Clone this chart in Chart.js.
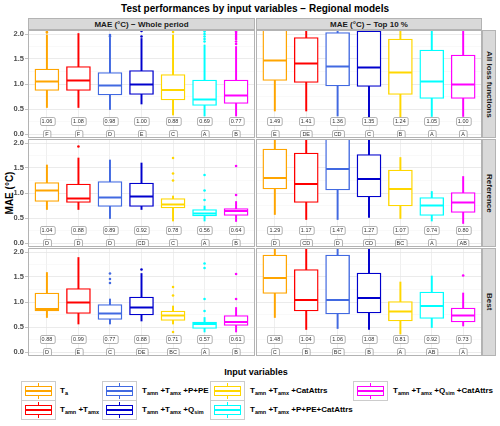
<!DOCTYPE html>
<html>
<head>
<meta charset="utf-8">
<script src="https://cdn.jsdelivr.net/npm/chart.js@4"></script>
<style>
  body { margin: 0; background: #fff; font-family: "Liberation Sans", Arial, sans-serif; }
  #fig { position: relative; width: 500px; height: 426px; overflow: hidden; background: #fff; }
  #fig canvas { position: absolute; }
  .txt { position: absolute; white-space: nowrap; color: #000; }
  .title { left: 28px; width: 454px; top: 3px; text-align: center; font-weight: bold; font-size: 10px; line-height: 12px; }
  .strip { position: absolute; box-sizing: border-box; background: #D9D9D9; border: 1px solid #B3B3B3;
           display: flex; align-items: center; justify-content: center;
           font-weight: bold; font-size: 8px; color: #1A1A1A; }
  .strip span.v { writing-mode: vertical-rl; }
  .ytitle { left: -30px; top: 187px; width: 80px; height: 12px; line-height: 12px; text-align: center;
            font-weight: bold; font-size: 10px; transform: rotate(-90deg); }
  .legtitle { left: 200px; width: 112px; top: 366px; text-align: center; font-weight: bold; font-size: 9px; line-height: 12px; }
  .key { position: absolute; width: 35px; height: 20px; box-sizing: border-box; border: 1px solid #CCCCCC; background: #fff; }
  .key .wh { position: absolute; left: 16px; width: 1.3px; top: 1px; height: 16px; }
  .key .bx { position: absolute; left: 3px; top: 4px; width: 27px; height: 10px; box-sizing: border-box; border: 1.3px solid; background: #fff; }
  .key .md { position: absolute; left: 3px; top: 8.2px; width: 27px; height: 1.6px; }
  .lab { font-weight: bold; font-size: 8px; line-height: 12px; }
  .lab sub { font-size: 5.5px; vertical-align: baseline; position: relative; top: 1.5px; }
</style>
</head>
<body>
<div id="fig">
  <div class="txt title">Test performances by input variables − Regional models</div>
  <div class="txt ytitle">MAE (°C)</div>
  <div class="txt legtitle">Input variables</div>
</div>
<script>
const colLabels = ['MAE (°C) − Whole period', 'MAE (°C) − Top 10 %'];
const rowLabels = ['All loss functions', 'Reference', 'Best'];
const inputVariables = [
  'T<sub>a</sub>',
  'T<sub>amn</sub> +T<sub>amx</sub>',
  'T<sub>amn</sub> +T<sub>amx</sub> +P+PE',
  'T<sub>amn</sub> +T<sub>amx</sub> +Q<sub>sim</sub>',
  'T<sub>amn</sub> +T<sub>amx</sub> +CatAttrs',
  'T<sub>amn</sub> +T<sub>amx</sub> +P+PE+CatAttrs',
  'T<sub>amn</sub> +T<sub>amx</sub> +Q<sub>sim</sub> +CatAttrs'
];
const boxColors = ['#FFA500', '#FF0000', '#4169E1', '#0000CD', '#FFD700', '#00FFFF', '#FF00FF'];
const yTicks = [0, 0.25, 0.5, 0.75, 1, 1.25, 1.5, 1.75, 2];

// panels in order: All/Whole, All/Top10, Reference/Whole, Reference/Top10, Best/Whole, Best/Top10
const lowerWhisker = [
  [0.53, 0.53, 0.49, 0.60, 0.38, 0.36, 0.36],
  [0.46, 0.46, 0.36, 0.34, 0.34, 0.35, 0.35],
  [0.67, 0.67, 0.49, 0.67, 0.44, 0.44, 0.43],
  [0.57, 0.47, 0.47, 0.51, 0.49, 0.44, 0.39],
  [0.69, 0.56, 0.56, 0.62, 0.56, 0.40, 0.40],
  [0.69, 0.45, 0.47, 0.45, 0.36, 0.49, 0.52]
];
const q1 = [
  [0.87, 0.87, 0.78, 0.79, 0.68, 0.57, 0.61],
  [1.07, 1.03, 0.96, 0.95, 0.79, 0.71, 0.71],
  [0.83, 0.81, 0.73, 0.73, 0.70, 0.54, 0.55],
  [1.08, 0.81, 1.06, 0.92, 0.74, 0.55, 0.61],
  [0.82, 0.77, 0.65, 0.74, 0.63, 0.47, 0.53],
  [1.17, 0.82, 0.76, 0.78, 0.62, 0.67, 0.60]
];
const median = [
  [1.05, 1.07, 0.97, 0.99, 0.88, 0.69, 0.77],
  [1.47, 1.41, 1.35, 1.33, 1.23, 1.05, 0.99],
  [1.05, 0.89, 0.91, 0.93, 0.77, 0.59, 0.64],
  [1.30, 1.18, 1.48, 1.28, 1.08, 0.75, 0.81],
  [0.86, 0.99, 0.77, 0.89, 0.73, 0.56, 0.60],
  [1.48, 1.04, 1.04, 1.08, 0.81, 0.92, 0.73]
];
const q3 = [
  [1.30, 1.35, 1.23, 1.27, 1.19, 1.08, 1.08],
  [2.15, 1.93, 2.03, 2.06, 1.90, 1.68, 1.58],
  [1.21, 1.18, 1.23, 1.20, 0.89, 0.67, 0.69],
  [1.88, 1.80, 2.15, 1.77, 1.46, 0.91, 1.01],
  [1.18, 1.27, 0.95, 1.10, 0.82, 0.60, 0.73],
  [1.94, 1.65, 1.94, 1.58, 1.01, 1.20, 0.88]
];
const upperWhisker = [
  [1.98, 2.01, 1.93, 1.91, 1.98, 1.78, 1.75],
  [2.90, 2.60, 2.70, 2.80, 2.50, 2.30, 2.20],
  [1.56, 1.70, 1.66, 1.60, 0.94, 0.74, 0.83],
  [2.40, 2.50, 2.80, 2.30, 1.71, 1.03, 1.33],
  [1.59, 1.89, 1.06, 1.57, 0.92, 0.69, 0.89],
  [2.30, 2.30, 2.50, 2.30, 1.40, 1.52, 1.18]
];
const outliers = [
  [[2.03, 2.06, 2.09], [], [1.95, 1.98], [1.95, 2.06], [2.04], [1.85, 1.9, 1.95, 2.0, 2.05], [1.8, 1.85, 1.9, 1.94, 1.98, 2.02, 2.05, 2.08]],
  [[], [], [], [], [], [], []],
  [[], [1.93], [], [], [1.70, 1.39, 1.25], [1.36, 1.05, 0.86], [1.54, 0.96]],
  [[], [], [], [], [], [], []],
  [[], [], [1.57, 1.46, 1.38], [1.65], [1.30, 1.13, 0.40], [1.77, 1.68, 1.06, 0.82], [1.56, 1.06]],
  [[], [], [], [], [], [], [1.53]]
];
const meanMAE = [
  [1.06, 1.08, 0.98, 1.00, 0.88, 0.69, 0.77],
  [1.49, 1.41, 1.36, 1.35, 1.24, 1.05, 1.00],
  [1.04, 0.88, 0.89, 0.92, 0.78, 0.56, 0.64],
  [1.29, 1.17, 1.47, 1.27, 1.07, 0.74, 0.80],
  [0.88, 0.99, 0.77, 0.88, 0.71, 0.57, 0.61],
  [1.48, 1.04, 1.06, 1.08, 0.81, 0.92, 0.73]
];
const groupLetters = [
  ['F', 'F', 'D', 'E', 'C', 'A', 'B'],
  ['E', 'DE', 'CD', 'C', 'B', 'A', 'A'],
  ['D', 'D', 'D', 'CD', 'C', 'A', 'B'],
  ['D', 'CD', 'D', 'CD', 'BC', 'A', 'AB'],
  ['D', 'E', 'C', 'DE', 'BC', 'A', 'B'],
  ['C', 'B', 'BC', 'B', 'A', 'AB', 'A']
];

const fig = document.getElementById('fig');
const colX = [28, 256], colW = [227, 226];
const rowY = [30, 139, 248], rowH = 108;
const FONT = '"Liberation Sans", Arial, sans-serif';

// strips
colLabels.forEach((t, c) => {
  const d = document.createElement('div');
  d.className = 'strip';
  Object.assign(d.style, { left: colX[c] + 'px', top: '18px', width: colW[c] + 'px', height: '12px' });
  d.textContent = t;
  fig.appendChild(d);
});
rowLabels.forEach((t, r) => {
  const d = document.createElement('div');
  d.className = 'strip';
  Object.assign(d.style, { left: '482px', top: rowY[r] + 'px', width: '14px', height: rowH + 'px' });
  d.innerHTML = '<span class="v">' + t + '</span>';
  fig.appendChild(d);
});

// legend
const keyX = [21, 102, 210, 353], labX = [60, 142, 250, 393], keyY = [381, 400];
inputVariables.forEach((lab, i) => {
  const c = Math.floor(i / 2), r = i % 2;
  const k = document.createElement('div');
  k.className = 'key';
  k.style.left = keyX[c] + 'px';
  k.style.top = keyY[r] + 'px';
  k.innerHTML = '<div class="wh" style="background:' + boxColors[i] + '"></div>' +
    '<div class="bx" style="border-color:' + boxColors[i] + '"></div>' +
    '<div class="md" style="background:' + boxColors[i] + '"></div>';
  fig.appendChild(k);
  const t = document.createElement('div');
  t.className = 'txt lab';
  t.style.left = labX[c] + 'px';
  t.style.top = (keyY[r] + 4) + 'px';
  t.innerHTML = lab;
  fig.appendChild(t);
});

function labelBox(ctx, text, x, y) {
  ctx.font = '5.5px ' + FONT;
  const w = ctx.measureText(text).width + 4, h = 8, r = 1.5;
  const l = Math.round(x - w / 2) + 0.5, t = Math.round(y - h / 2) + 0.5;
  ctx.beginPath();
  ctx.moveTo(l + r, t);
  ctx.arcTo(l + w, t, l + w, t + h, r);
  ctx.arcTo(l + w, t + h, l, t + h, r);
  ctx.arcTo(l, t + h, l, t, r);
  ctx.arcTo(l, t, l + w, t, r);
  ctx.closePath();
  ctx.fillStyle = '#fff';
  ctx.fill();
  ctx.lineWidth = 0.6;
  ctx.strokeStyle = '#7F7F7F';
  ctx.stroke();
  ctx.fillStyle = '#333';
  ctx.textAlign = 'center';
  ctx.textBaseline = 'middle';
  ctx.fillText(text, x, t + h / 2 + 0.3);
}

const boxExtras = {
  id: 'boxExtras',
  afterDatasetsDraw(chart) {
    const p = chart.options.plugins.boxExtras.panel;
    const xs = chart.scales.x, ys = chart.scales.y, a = chart.chartArea;
    const ctx = chart.ctx;
    ctx.save();
    ctx.beginPath();
    ctx.rect(a.left, a.top, a.right - a.left, a.bottom - a.top);
    ctx.clip();
    median[p].forEach((m, i) => {
      const x = xs.getPixelForValue(i + 1), y = ys.getPixelForValue(m);
      ctx.beginPath();
      ctx.moveTo(x - 11.5, y);
      ctx.lineTo(x + 11.5, y);
      ctx.lineWidth = 2;
      ctx.strokeStyle = boxColors[i];
      ctx.stroke();
    });
    meanMAE[p].forEach((m, i) => {
      const x = xs.getPixelForValue(i + 1);
      labelBox(ctx, m.toFixed(2), x, ys.getPixelForValue(0.26));
      labelBox(ctx, groupLetters[p][i], x, ys.getPixelForValue(0));
    });
    ctx.restore();
  },
  afterDraw(chart) {
    const a = chart.chartArea, ctx = chart.ctx;
    ctx.save();
    ctx.strokeStyle = '#B3B3B3';
    ctx.lineWidth = 1;
    ctx.strokeRect(a.left + 0.5, a.top + 0.5, a.right - a.left - 1, a.bottom - a.top - 1);
    ctx.restore();
  }
};

function makePanel(p) {
  const row = Math.floor(p / 2), col = p % 2;
  const left = col === 0 ? 0 : colX[1];
  const width = col === 0 ? colX[0] + colW[0] : colW[1];
  const canvas = document.createElement('canvas');
  canvas.width = width;
  canvas.height = rowH;
  canvas.style.left = left + 'px';
  canvas.style.top = rowY[row] + 'px';
  fig.appendChild(canvas);

  const xsVals = boxColors.map((_, i) => i + 1);
  const outData = [], outColors = [];
  outliers[p].forEach((vals, i) => vals.forEach(v => {
    outData.push({ x: i + 1, y: v });
    outColors.push(boxColors[i]);
  }));
  const isMajor = v => Math.abs(v * 2 - Math.round(v * 2)) < 1e-6;

  new Chart(canvas.getContext('2d'), {
    type: 'bar',
    data: {
      datasets: [
        {
          type: 'scatter', order: 1, data: outData,
          pointRadius: 1.3, pointBorderWidth: 0,
          pointBackgroundColor: outColors, pointBorderColor: outColors
        },
        {
          order: 2, grouped: false, barThickness: 24,
          data: xsVals.map((x, i) => ({ x, y: [q1[p][i], q3[p][i]] })),
          backgroundColor: '#fff', borderColor: boxColors, borderWidth: 1.4, borderSkipped: false
        },
        {
          order: 3, grouped: false, barThickness: 1.3,
          data: xsVals.map((x, i) => ({ x, y: [lowerWhisker[p][i], upperWhisker[p][i]] })),
          backgroundColor: boxColors, borderWidth: 0
        }
      ]
    },
    options: {
      responsive: false,
      animation: false,
      events: [],
      layout: { padding: 0, autoPadding: false },
      plugins: { legend: { display: false }, tooltip: { enabled: false }, boxExtras: { panel: p } },
      scales: {
        x: {
          type: 'linear', min: 0.4, max: 7.6, offset: false,
          afterBuildTicks: s => { s.ticks = xsVals.map(v => ({ value: v })); },
          ticks: { display: false },
          grid: { offset: false, color: '#EBEBEB', lineWidth: 0.8, drawTicks: false },
          border: { display: false },
          afterFit: s => { s.height = 0; s.paddingLeft = 0; s.paddingRight = 0; }
        },
        y: {
          type: 'linear', min: -0.08, max: 2.08,
          afterBuildTicks: s => { s.ticks = yTicks.map(v => ({ value: v })); },
          ticks: {
            display: col === 0, autoSkip: false, padding: 1,
            color: '#4D4D4D', font: { family: FONT, size: 7.5, weight: 'bold' },
            callback: v => isMajor(v) ? v.toFixed(1) : ''
          },
          grid: {
            drawTicks: col === 0, tickLength: 3,
            color: c => isMajor(c.tick.value) ? '#E6E6E6' : '#F3F3F3',
            lineWidth: c => isMajor(c.tick.value) ? 0.8 : 0.5,
            tickColor: c => isMajor(c.tick.value) ? '#B3B3B3' : 'rgba(0,0,0,0)'
          },
          border: { display: false },
          afterFit: s => { s.width = col === 0 ? colX[0] : 0; s.paddingTop = 0; s.paddingBottom = 0; }
        }
      }
    },
    plugins: [boxExtras]
  });
}

for (let p = 0; p < 6; p++) makePanel(p);
</script>
</body>
</html>
